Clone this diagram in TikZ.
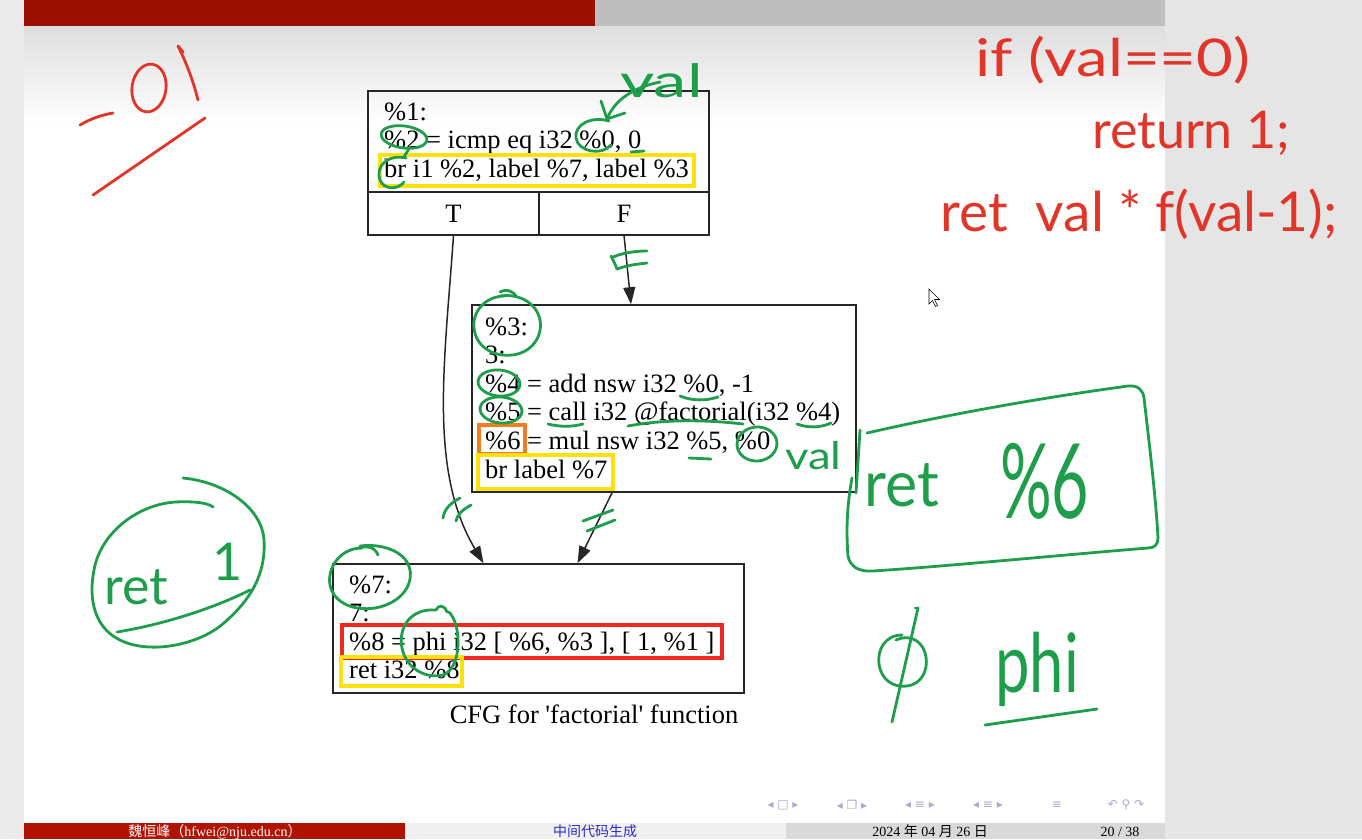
\documentclass[tikz,border=0pt]{standalone}
\usepackage{fontspec}
\usepackage{graphicx}
\setmainfont{Liberation Serif}
\newfontfamily\handfont{Lato}
\newfontfamily\cjk{Noto Sans CJK SC}
\newfontfamily\symfont{DejaVu Sans}
\usetikzlibrary{arrows.meta,calc}

\definecolor{barred}{HTML}{9A0F00}
\definecolor{bargray}{HTML}{BEBEBE}
\definecolor{footred}{HTML}{B11300}
\definecolor{footblue}{HTML}{2A2AD0}
\definecolor{navblue}{HTML}{A9A9D6}
\definecolor{pengreen}{HTML}{1E9E4A}
\definecolor{penred}{HTML}{E2352A}
\definecolor{hlyellow}{HTML}{FFE10A}
\definecolor{hlorange}{HTML}{F27C24}
\definecolor{hlred}{HTML}{F0281E}

\newcommand\cfgsize{\fontsize{26.5}{28}\selectfont}
\newcommand\footsize{\fontsize{14}{14}\selectfont}
\newcommand\hand[1]{\handfont\fontsize{#1}{#1}\selectfont}

\begin{document}
\begin{tikzpicture}[x=1pt,y=-1pt,
  block/.style={draw=black!85,line width=1.6pt,rectangle,inner sep=0pt},
  code/.style={anchor=base west,inner sep=0pt,font=\cfgsize},
  cell/.style={inner sep=0pt,font=\cfgsize},
  flow/.style={draw=black!85,line width=1.5pt,-{Triangle[length=17pt,width=12pt]}},
  hl/.style={line width=4pt},
  gpen/.style={draw=pengreen,line width=2.8pt,line cap=round,line join=round},
  rpen/.style={draw=penred,line width=2.8pt,line cap=round,line join=round},
  gtext/.style={text=pengreen,inner sep=0pt,anchor=base west},
  rtext/.style={text=penred,inner sep=0pt,anchor=base west},
  navsym/.style={text=navblue,inner sep=0pt,font=\symfont\fontsize{12}{12}\selectfont}]

\useasboundingbox (0,0) rectangle (1362,839);

% page frame, header and side panel
\fill[black!8] (0,0) rectangle (1362,839);
\fill[white] (24,26) rectangle (1165,823);
\shade[top color=black!13,bottom color=white] (24,26) rectangle (1165,125);
\fill[black!10] (1165,0) rectangle (1362,839);
\fill[barred] (24,0) rectangle (595,26);
\fill[bargray] (595,0) rectangle (1165,26);

% footer
\fill[footred] (24,823) rectangle (405,839);
\fill[black!6] (405,823) rectangle (786,839);
\fill[black!15] (786,823) rectangle (1165,839);
\node[anchor=base,inner sep=0pt,text=white,font=\footsize] (ftauthor) at (215,836)
  {{\cjk 魏恒峰（}hfwei@nju.edu.cn{\cjk ）}};
\node[anchor=base,inner sep=0pt,text=footblue,font=\footsize] (fttitle) at (595,836) {\cjk 中间代码生成};
\node[anchor=base,inner sep=0pt,font=\footsize] (ftdate) at (930,836) {2024 {\cjk 年} 04 {\cjk 月} 26 {\cjk 日}};
\node[anchor=base,inner sep=0pt,font=\footsize] (ftpage) at (1120,836) {20 / 38};

% navigation symbols
\node[navsym] (nav1) at (783,805) {◂ □ ▸};
\node[navsym] (nav2) at (852,805) {◂ ❐ ▸};
\node[navsym] (nav3) at (920,805) {◂ ≡ ▸};
\node[navsym] (nav4) at (988,805) {◂ ≡ ▸};
\node[navsym] (nav5) at (1057,805) {≡};
\node[navsym] (nav6) at (1126,805) {↶ ⚲ ↷};

% ---------------- control flow graph ----------------
% entry block %1
\node[block,minimum width=341pt,minimum height=144pt] (b1) at (538.5,163) {};
\draw[draw=black!85,line width=1.6pt] (368,192) -- (709,192) (539,192) -- (539,235);
\node[cell,minimum width=170pt,minimum height=43pt] (T) at (453.5,213.5) {T};
\node[cell,minimum width=170pt,minimum height=43pt] (F) at (624,213.5) {F};
\node[code] (l11) at (384,120) {\%1:};
\node[code] (l12) at (384,148.5) {\%2 = icmp eq i32 \%0, 0};
\node[code] (l13) at (384,177) {br i1 \%2, label \%7, label \%3};

% block %3
\node[block,minimum width=384pt,minimum height=187pt] (b3) at (664,398.5) {};
\node[code] (l31) at (485,335) {\%3:};
\node[code] (l32) at (485,363.6) {3:};
\node[code] (l33) at (485,392) {\%4 = add nsw i32 \%0, -1};
\node[code] (l34) at (485,420.8) {\%5 = call i32 @factorial(i32 \%4)};
\node[code] (l35) at (485,449.4) {\%6 = mul nsw i32 \%5, \%0};
\node[code] (l36) at (485,478) {br label \%7};

% exit block %7
\node[block,minimum width=411pt,minimum height=129pt] (b7) at (538.5,628.5) {};
\node[code] (l71) at (349,593) {\%7:};
\node[code] (l72) at (349,621.5) {7:};
\node[code] (l73) at (349,650) {\%8 = phi i32 [ \%6, \%3 ], [ 1, \%1 ]};
\node[code] (l74) at (349,678) {ret i32 \%8};
\node[anchor=base,inner sep=0pt,font=\cfgsize] (cap) at (594,723) {CFG for \textquotesingle factorial\textquotesingle\ function};

% edges
\draw[flow] (T.south) .. controls (445,360) and (428,470) .. ([xshift=-55pt]b7.north);
\draw[flow] (F.south) -- ([xshift=-33pt]b3.north);
\draw[flow] ([xshift=-52pt]b3.south) -- ([xshift=39pt]b7.north);

% highlight boxes
\draw[hl,hlyellow] (380,155) rectangle (694,186);
\draw[hl,hlorange] (479,425) rectangle (525,454);
\draw[hl,hlyellow] (478,455) rectangle (613,489);
\draw[hl,hlred] (342,625) rectangle (722,658);
\draw[hl,hlyellow] (341,657) rectangle (462,686);

% ---------------- green pen ----------------
% block %1
\draw[gpen,rotate around={-8:(404,137)}] (404,137) ellipse [x radius=23pt,y radius=11pt];
\draw[gpen] (410,147) -- (404,157);
\draw[gpen] (406,158) .. controls (388,154) and (375,166) .. (380,180) .. controls (384,190) and (398,190) .. (404,182);
\draw[gpen] (609,121) .. controls (592,116) and (574,124) .. (576,138) .. controls (578,152) and (602,156) .. (611,145);
\draw[gpen] (660,82) .. controls (640,86) and (616,96) .. (607,119);
\draw[gpen] (607,119) -- (601,101) (607,119) -- (625,113);
\draw[gpen] (631,152) -- (644,151);
\node[gtext,font=\hand{46}] (valA) at (620,97) {\scalebox{1.45}[1]{val}};

% block %3
\draw[gpen] (505,296) .. controls (485,296) and (472,312) .. (474,328) .. controls (476,348) and (495,357) .. (512,355)
  .. controls (532,353) and (543,336) .. (540,320) .. controls (537,304) and (520,293) .. (500,296);
\draw[gpen] (500,292) .. controls (505,289) and (512,290) .. (516,296);
\draw[gpen,rotate around={-5:(499,383)}] (499,383) ellipse [x radius=21pt,y radius=13pt];
\draw[gpen,rotate around={-5:(501,410)}] (501,410) ellipse [x radius=21pt,y radius=13pt];
\draw[gpen] (680,396) .. controls (692,401) and (706,401) .. (718,397);
\draw[gpen] (548,424) .. controls (560,427) and (572,427) .. (583,424);
\draw[gpen] (628,426) .. controls (660,420) and (700,419) .. (743,424);
\draw[gpen] (797,424) .. controls (808,428) and (820,428) .. (831,423);
\draw[gpen] (689,458) -- (711,459);
\draw[gpen,rotate around={5:(757,444)}] (757,444) ellipse [x radius=20pt,y radius=17pt];
\node[gtext,font=\hand{38}] (valB) at (785,469) {\scalebox{1.2}[1]{val}};

% marks on the edges
\draw[gpen] (613,257) .. controls (625,252) and (638,251) .. (647,251);
\draw[gpen] (617,269) .. controls (628,265) and (638,264) .. (647,263);
\draw[gpen] (611,256) .. controls (614,262) and (616,266) .. (617,269);
\draw[gpen] (460,498) .. controls (450,503) and (444,510) .. (443,518);
\draw[gpen] (471,505) .. controls (462,510) and (457,515) .. (456,521);
\draw[gpen] (583,521) -- (613,510);
\draw[gpen] (587,531) -- (615,520);

% block %7
\draw[gpen] (362,548) .. controls (340,548) and (327,568) .. (330,585) .. controls (334,604) and (355,611) .. (375,608)
  .. controls (398,604) and (413,588) .. (410,570) .. controls (407,553) and (385,543) .. (360,546);
\draw[gpen] (360,548) .. controls (366,545) and (375,547) .. (378,555);
\draw[gpen] (436,610) .. controls (410,608) and (398,628) .. (402,648) .. controls (406,668) and (425,679) .. (443,675)
  .. controls (462,668) and (462,625) .. (449,612);
\draw[gpen] (436,610) .. controls (438,605) and (444,604) .. (447,612);

% return value box
\draw[gpen] (867,433) .. controls (950,414) and (1040,398) .. (1128,386) .. controls (1138,385) and (1143,390) .. (1144,398)
  .. controls (1150,450) and (1156,500) .. (1158,538) .. controls (1158,545) and (1154,548) .. (1148,548)
  .. controls (1050,556) and (950,566) .. (873,571) .. controls (858,572) and (850,566) .. (848,556)
  .. controls (846,530) and (847,505) .. (852,478);
\draw[gpen] (860,430) -- (856,493);
\node[gtext,font=\hand{64}] (retA) at (864,506) {\scalebox{0.95}[1]{ret}};
\node[gtext,font=\hand{104}] (pcA) at (1000,518) {\scalebox{0.62}[1]{\%6}};

% ret 1
\draw[gpen] (183,478) .. controls (225,482) and (262,508) .. (264,540) .. controls (266,575) and (250,600) .. (225,622)
  .. controls (200,645) and (150,655) .. (120,640) .. controls (95,628) and (88,600) .. (94,570)
  .. controls (100,535) and (135,505) .. (175,502) .. controls (195,501) and (208,503) .. (213,507);
\draw[gpen] (117,632) .. controls (160,625) and (210,610) .. (250,590);
\node[gtext,font=\hand{52}] (retB) at (104,604) {ret};
\node[gtext,font=\hand{52}] (oneB) at (212,580) {1};

% phi
\draw[gpen] (902,635) .. controls (885,635) and (877,650) .. (879,664) .. controls (881,680) and (894,688) .. (907,686)
  .. controls (922,684) and (928,670) .. (926,657) .. controls (924,643) and (912,633) .. (896,640);
\draw[gpen] (918,608) -- (892,722);
\draw[gpen] (915,608) -- (918,608);
\node[gtext,font=\hand{82}] (phiw) at (995,692) {\scalebox{0.75}[1]{phi}};
\draw[gpen] (985,725) -- (1097,709);

% ---------------- red pen ----------------
\draw[rpen] (80,125) .. controls (92,118) and (102,115) .. (113,113);
\draw[rpen,rotate around={-8:(149,88)}] (149,88) ellipse [x radius=17pt,y radius=24pt];
\draw[rpen] (178,46) .. controls (186,62) and (193,80) .. (198,100);
\draw[rpen] (178,46) -- (183,52);
\draw[rpen] (205,118) -- (93,195);
\node[rtext,font=\hand{52}] (ifline) at (975,76) {\scalebox{1.22}[1]{if (val==0)}};
\node[rtext,font=\hand{52}] (retone) at (1092,148) {return 1;};
\node[rtext,font=\hand{55}] (retrec) at (940,231) {ret \ val * f(val-1);};

% mouse pointer
\draw[black,fill=white,line width=0.6pt] (929,289) -- (929,304) -- (932.5,300.5) -- (935.5,306.5) -- (937.5,305.5)
  -- (934.5,299.5) -- (939.5,299.5) -- cycle;
\end{tikzpicture}
\end{document}
